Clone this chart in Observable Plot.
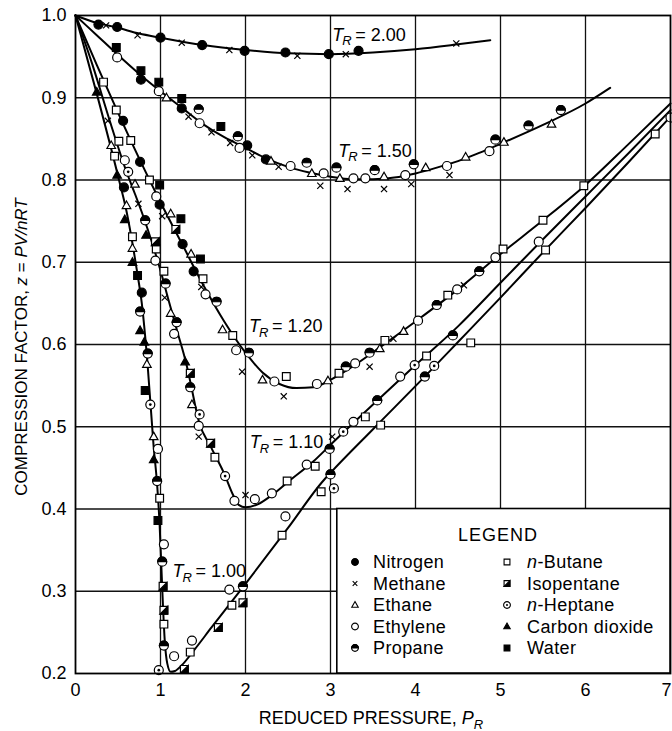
<!DOCTYPE html>
<html><head><meta charset="utf-8">
<script src="https://cdn.jsdelivr.net/npm/d3@7"></script>
<script src="https://cdn.jsdelivr.net/npm/@observablehq/plot@0.6"></script>
<style>
html,body{margin:0;padding:0;background:#fff;overflow:hidden}
svg text{fill:#000}
</style></head><body><div id="chart"></div>
<script>
// ---------- data ----------
const xTicks = [0,1,2,3,4,5,6,7];
const yTicks = [0.2,0.3,0.4,0.5,0.6,0.7,0.8,0.9,1.0];

// curves [P_R, z]
const tr200 = [[0,1],[0.25,0.991],[0.5,0.985],[0.75,0.978],[1.0,0.973],[1.5,0.964],[2.0,0.958],[2.5,0.954],[3.0,0.953],[3.5,0.955],[4.0,0.959],[4.5,0.965],[4.88,0.970]];
const tr150 = [[0,1],[0.25,0.976],[0.5,0.952],[0.75,0.929],[1.0,0.908],[1.25,0.888],[1.5,0.868],[1.75,0.852],[2.0,0.839],[2.25,0.826],[2.5,0.816],[2.75,0.809],[3.0,0.804],[3.25,0.801],[3.5,0.801],[3.75,0.803],[4.0,0.808],[4.25,0.815],[4.5,0.823],[4.75,0.833],[5.0,0.844],[5.5,0.867],[6.0,0.893],[6.29,0.912]];
const tr120 = [[0,1],[0.25,0.94],[0.5,0.882],[0.75,0.826],[1.0,0.773],[1.25,0.723],[1.5,0.673],[1.75,0.628],[2.0,0.59],[2.2,0.566],[2.4,0.552],[2.6,0.547],[2.8,0.548],[3.0,0.557],[3.3,0.576],[3.6,0.598],[4.0,0.628],[4.5,0.667],[5.0,0.71],[5.5,0.751],[6.0,0.794],[6.5,0.843],[7.0,0.893]];
const tr110 = [[0,1],[0.2,0.94],[0.4,0.873],[0.6,0.81],[0.7,0.783],[0.8,0.755],[0.9,0.724],[1.0,0.69],[1.1,0.652],[1.2,0.615],[1.3,0.578],[1.35,0.555],[1.45,0.507],[1.6,0.474],[1.75,0.443],[1.85,0.418],[1.92,0.405],[2.0,0.402],[2.15,0.406],[2.3,0.416],[2.5,0.433],[2.8,0.458],[3.0,0.478],[3.5,0.527],[4.0,0.575],[4.5,0.622],[5.0,0.675],[5.5,0.728],[6.0,0.78],[6.5,0.832],[7.0,0.885]];
const tr100 = [[0,1],[0.25,0.905],[0.5,0.805],[0.6,0.762],[0.68,0.717],[0.73,0.685],[0.78,0.65],[0.845,0.58],[0.92,0.475],[0.96,0.43],[0.99,0.38],[1.01,0.33],[1.03,0.28],[1.05,0.24],[1.08,0.212],[1.12,0.202],[1.17,0.203],[1.25,0.21],[1.4,0.229],[1.6,0.256],[2.0,0.309],[2.5,0.377],[2.92,0.435],[3.0,0.444],[3.5,0.497],[4.1,0.56],[4.5,0.603],[5.0,0.657],[5.5,0.712],[6.0,0.766],[6.5,0.821],[7.0,0.877]];

// experimental points [P_R, z]
const nitrogen = [[0.27,0.989],[0.49,0.986],[1.0,0.973],[1.49,0.964],[1.99,0.957],[2.47,0.955],[2.98,0.953],[3.33,0.957],[0.77,0.922],[1.25,0.887],[2.02,0.842],[2.24,0.825],[0.56,0.872],[0.76,0.822],[0.99,0.77],[1.26,0.722],[1.39,0.689],[0.57,0.791],[0.78,0.663]];
const methane = [[0.36,0.988],[0.73,0.976],[1.25,0.967],[1.81,0.958],[2.61,0.951],[3.18,0.953],[4.48,0.966],[1.33,0.877],[1.6,0.858],[1.82,0.845],[2.08,0.830],[2.39,0.816],[2.88,0.793],[3.20,0.789],[3.63,0.789],[3.95,0.795],[4.40,0.806],[1.02,0.756],[1.48,0.67],[1.96,0.567],[2.45,0.537],[3.46,0.573],[3.74,0.607],[4.57,0.672],[0.38,0.872],[0.74,0.771],[1.05,0.657],[1.45,0.488],[2.0,0.417],[3.02,0.488]];
const ethane = [[1.07,0.90],[2.3,0.823],[2.78,0.808],[3.11,0.802],[3.63,0.804],[4.12,0.815],[4.59,0.828],[5.04,0.846],[5.6,0.868],[1.12,0.759],[1.36,0.71],[1.73,0.618],[2.2,0.557],[2.97,0.556],[3.58,0.595],[3.86,0.616],[0.42,0.842],[0.7,0.795],[1.12,0.638],[1.37,0.527],[0.6,0.769],[0.67,0.717],[0.84,0.576],[0.92,0.488]];
const ethylene = [[0.49,0.949],[0.98,0.908],[1.46,0.869],[1.93,0.839],[2.53,0.817],[2.92,0.808],[3.27,0.802],[3.41,0.802],[3.88,0.806],[4.37,0.817],[4.87,0.835],[0.95,0.78],[1.53,0.661],[1.89,0.593],[2.34,0.555],[2.84,0.552],[3.29,0.577],[4.03,0.629],[4.49,0.667],[4.94,0.706],[0.58,0.824],[0.94,0.702],[1.16,0.613],[1.45,0.501],[1.87,0.41],[2.11,0.412],[2.31,0.419],[2.72,0.454],[3.27,0.506],[3.82,0.561],[5.45,0.725],[0.97,0.473],[1.04,0.357],[1.16,0.221],[1.37,0.24],[1.81,0.302],[2.47,0.391],[7.0,0.876]];
const propane = [[1.45,0.886],[1.91,0.853],[2.72,0.821],[3.07,0.815],[3.52,0.812],[3.98,0.819],[4.94,0.849],[5.33,0.866],[5.71,0.885],[1.66,0.652],[2.04,0.59],[3.18,0.573],[3.46,0.59],[4.25,0.648],[4.75,0.689],[0.82,0.751],[1.06,0.674],[1.19,0.627],[1.35,0.548],[2.99,0.473],[3.55,0.532],[4.44,0.611],[0.76,0.64],[0.85,0.589],[0.96,0.434],[1.02,0.336],[1.04,0.234],[1.97,0.306],[3.0,0.442],[4.11,0.561]];
const butane = [[0.33,0.919],[0.48,0.885],[0.65,0.848],[0.87,0.80],[1.5,0.68],[1.85,0.611],[2.48,0.561],[3.1,0.565],[3.64,0.605],[4.38,0.66],[5.03,0.716],[5.5,0.751],[5.98,0.793],[0.51,0.847],[0.95,0.716],[1.04,0.689],[1.64,0.463],[2.49,0.434],[2.82,0.452],[3.41,0.512],[4.13,0.586],[4.65,0.602],[0.46,0.829],[0.67,0.731],[0.99,0.413],[1.04,0.26],[1.35,0.226],[1.84,0.283],[2.43,0.368],[2.89,0.421],[3.59,0.502],[5.53,0.715],[6.82,0.856]];
const isopentane = [[1.18,0.74],[0.94,0.725],[1.35,0.565],[1.59,0.48],[1.03,0.306],[1.04,0.277],[1.28,0.205],[1.68,0.256],[1.97,0.286]];
const heptane = [[0.62,0.81],[1.46,0.515],[1.76,0.44],[3.15,0.494],[3.99,0.575],[0.88,0.527],[0.98,0.204],[3.04,0.425],[4.22,0.574]];
const co2 = [[0.25,0.907],[0.49,0.806],[0.58,0.752],[0.67,0.70],[0.76,0.617],[0.81,0.603],[0.92,0.46],[0.83,0.733],[1.29,0.579]];
const water = [[0.48,0.961],[0.77,0.933],[0.98,0.919],[1.25,0.899],[1.71,0.865],[0.99,0.794],[1.24,0.753],[1.47,0.704],[0.73,0.684],[0.82,0.544],[0.97,0.386]];

// curve labels
const labelValues = ["2.00","1.50","1.20","1.10","1.00"];
const labelP = [3.02,3.09,2.04,2.05,1.14];
const labelZ = [0.976,0.835,0.622,0.481,0.324];

// legend
const legendLeft = ["Nitrogen","Methane","Ethane","Ethylene","Propane"];
const legendRight = ["n-Butane","Isopentane","n-Heptane","Carbon dioxide","Water"];

// ---------- symbols ----------
const R = s => Math.sqrt(s/Math.PI);
const circ = {draw(c,s){const r=R(s); c.moveTo(r,0); c.arc(0,0,r,0,2*Math.PI); c.closePath();}};
const sq = {draw(c,s){const h=R(s)*0.86; c.moveTo(-h,-h); c.lineTo(h,-h); c.lineTo(h,h); c.lineTo(-h,h); c.closePath();}};
const tri = {draw(c,s){const r=R(s); c.moveTo(0,-r); c.lineTo(r*0.95,r*0.68); c.lineTo(-r*0.95,r*0.68); c.closePath();}};
const times = {draw(c,s){const h=R(s)*0.68; c.moveTo(-h,-h); c.lineTo(h,h); c.moveTo(h,-h); c.lineTo(-h,h);}};
const halfTop = {draw(c,s){const r=R(s); c.moveTo(-r,0); c.arc(0,0,r,Math.PI,2*Math.PI); c.closePath();}};
const cornerTri = {draw(c,s){const h=R(s)*0.86; c.moveTo(h,-h); c.lineTo(h,h); c.lineTo(-h,h); c.closePath();}};
const centerDot = {draw(c,s){const r=R(s)*0.3; c.moveTo(r,0); c.arc(0,0,r,0,2*Math.PI); c.closePath();}};

// layers per substance: [symbol, fill, stroke]
const styles = {
  Nitrogen: [[circ,"black","black"]],
  Methane: [[times,"none","black"]],
  Ethane: [[tri,"white","black"]],
  Ethylene: [[circ,"white","black"]],
  Propane: [[circ,"white","black"],[halfTop,"black","black"]],
  "n-Butane": [[sq,"white","black"]],
  Isopentane: [[sq,"white","black"],[cornerTri,"black","black"]],
  "n-Heptane": [[circ,"white","black"],[centerDot,"black","none"]],
  "Carbon dioxide": [[tri,"black","black"]],
  Water: [[sq,"black","black"]]
};
const seriesData = {
  Nitrogen: nitrogen, Methane: methane, Ethane: ethane, Ethylene: ethylene, Propane: propane,
  "n-Butane": butane, Isopentane: isopentane, "n-Heptane": heptane, "Carbon dioxide": co2, Water: water
};

const labels = labelValues.map((v,i)=>({v, p:labelP[i], z:labelZ[i]}));
const curves = [tr200,tr150,tr120,tr110,tr100];

const W=672, H=731, mL=75, mR=2, mT=15, mB=58;
const FONT = "'Liberation Sans', Arial, sans-serif";

const marks = [
  Plot.ruleX(xTicks.slice(1,-1), {stroke:"#111", strokeWidth:1.3}),
  Plot.ruleY(yTicks.slice(1,-1), {stroke:"#111", strokeWidth:1.3}),
  ...curves.map(c => Plot.line(c, {x:d=>d[0], y:d=>d[1], curve:"monotone-x", stroke:"black", strokeWidth:2})),
];
for (const name of Object.keys(seriesData)) {
  for (const [sym, fill, stroke] of styles[name]) {
    marks.push(Plot.dot(seriesData[name], {x:d=>d[0], y:d=>d[1], symbol:sym, r:4.5, fill, stroke, strokeWidth:1.2}));
  }
}
marks.push(
  Plot.text(labels, {x:"p", y:"z", text:()=>"T", fontStyle:"italic", textAnchor:"start", fontSize:18}),
  Plot.text(labels, {x:"p", y:"z", text:()=>"R", fontStyle:"italic", textAnchor:"start", fontSize:13, dx:10, dy:6}),
  Plot.text(labels, {x:"p", y:"z", text:d=>"= "+d.v, textAnchor:"start", fontSize:18, dx:23}),
  Plot.frame({stroke:"black", strokeWidth:1.8})
);

const chart = Plot.plot({
  width:W, height:H, marginLeft:mL, marginRight:mR, marginTop:mT, marginBottom:mB,
  style:{fontFamily:FONT, fontSize:"18px", background:"white", color:"black"},
  x:{domain:[0,7], ticks:xTicks, tickSize:0, tickPadding:10, tickFormat:d=>String(d), label:null},
  y:{domain:[0.2,1.0], ticks:yTicks, tickSize:0, tickPadding:9, tickFormat:d=>d.toFixed(1), label:null},
  marks
});
document.getElementById("chart").appendChild(chart);

// ---------- annotations (axis titles, legend) ----------
const svg = d3.select(chart);
const xs = d3.scaleLinear([0,7],[mL, W-mR]);
const ys = d3.scaleLinear([0.2,1.0],[H-mB, mT]);

// keep the last x tick label inside the picture
svg.selectAll("text").filter(function(){ return this.textContent === "7"; })
  .attr("text-anchor","end").attr("dx", 1);

const yt = svg.append("text").attr("transform",`translate(21,347) rotate(-90)`)
  .attr("text-anchor","middle").attr("font-size",17).attr("dy","0.35em");
yt.append("tspan").text("COMPRESSION FACTOR, ");
yt.append("tspan").attr("font-style","italic").text("z");
yt.append("tspan").text(" = ");
yt.append("tspan").attr("font-style","italic").text("PV/nRT");

const xt = svg.append("text").attr("x",371).attr("y",724).attr("text-anchor","middle").attr("font-size",18);
xt.append("tspan").text("REDUCED PRESSURE, ");
xt.append("tspan").attr("font-style","italic").text("P");
xt.append("tspan").attr("font-style","italic").attr("font-size",13).attr("dy",5).text("R");

// legend box
const bx = xs(3.08), by = ys(0.4);
const lg = svg.append("g");
lg.append("rect").attr("x",bx).attr("y",by).attr("width",W-mR-bx).attr("height",H-mB-by)
  .attr("fill","white").attr("stroke","black").attr("stroke-width",1.6);
lg.append("text").attr("x",498).attr("y",541).attr("text-anchor","middle").attr("font-size",18)
  .attr("letter-spacing",1).text("LEGEND");
const rows = [562,583.5,605,626.5,648];
function legendItem(name, mx, tx, cy) {
  for (const [sym, fill, stroke] of styles[name]) {
    lg.append("path").attr("transform",`translate(${mx},${cy})`)
      .attr("d", d3.symbol().type(sym).size(Math.PI*3.4*3.4)())
      .attr("fill",fill).attr("stroke",stroke).attr("stroke-width",1.1);
  }
  const t = lg.append("text").attr("x",tx).attr("y",cy).attr("dy","0.36em")
    .attr("font-size",18).attr("text-anchor","start").attr("letter-spacing",0.4);
  if (name.startsWith("n-")) {
    t.append("tspan").attr("font-style","italic").text("n");
    t.append("tspan").text(name.slice(1));
  } else t.text(name);
}
legendLeft.forEach((n,i)=>legendItem(n,355,373,rows[i]));
legendRight.forEach((n,i)=>legendItem(n,507,527,rows[i]));
</script></body></html>
